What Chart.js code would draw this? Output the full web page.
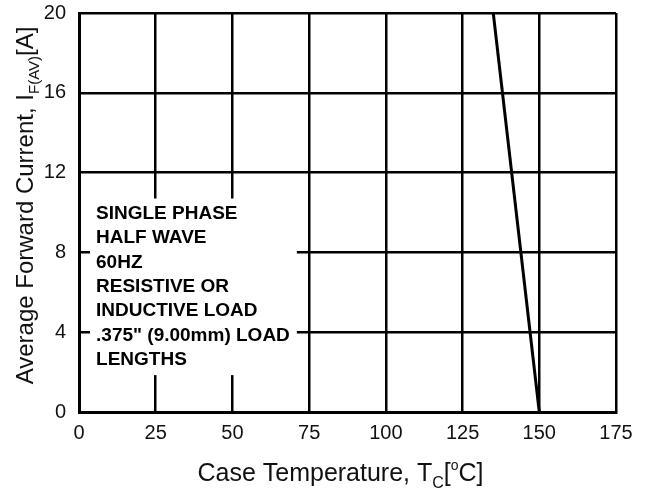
<!DOCTYPE html>
<html>
<head>
<meta charset="utf-8">
<script src="https://cdn.jsdelivr.net/npm/chart.js@4.4.0/dist/chart.umd.min.js"></script>
<style>
    body { margin: 0; background: #fff; }
    #wrap { width: 647px; height: 491px; }
</style>
</head>
<body>
<div id="wrap"><canvas id="derating" width="647" height="491"></canvas></div>
<script>
// derating curve: case temperature vs average forward current
const caseTemp = [135, 150];
const forwardCurrent = [20, 0];

const xTicks = [0, 25, 50, 75, 100, 125, 150, 175];
const yTicks = [0, 4, 8, 12, 16, 20];

const noteLines = [
    "SINGLE PHASE",
    "HALF WAVE",
    "60HZ",
    "RESISTIVE OR",
    "INDUCTIVE LOAD",
    ".375\" (9.00mm) LOAD",
    "LENGTHS"
];

const fontFamily = '"Liberation Sans", Arial, sans-serif';

const points = caseTemp.map((t, i) => ({ x: t, y: forwardCurrent[i] }));

// white note box over the grid, with the test conditions
const notePlugin = {
    id: 'note',
    beforeDatasetsDraw(chart) {
        const ctx = chart.ctx;
        const xs = chart.scales.x, ys = chart.scales.y;
        const left = xs.getPixelForValue(3.6), right = xs.getPixelForValue(71);
        const top = ys.getPixelForValue(10.7), bottom = ys.getPixelForValue(1.85);
        ctx.save();
        ctx.fillStyle = '#fff';
        ctx.fillRect(left, top, right - left, bottom - top);
        ctx.fillStyle = '#000';
        ctx.font = 'bold 19px ' + fontFamily;
        ctx.textBaseline = 'middle';
        noteLines.forEach((line, i) => {
            ctx.fillText(line, left + 6, top + 15 + i * 24.4);
        });
        ctx.restore();
    }
};

// draws a run of text parts; each part: [text, size, baseline shift]
function drawParts(ctx, parts, startX, y) {
    let x = startX;
    parts.forEach(p => {
        ctx.font = p[1] + 'px ' + fontFamily;
        ctx.fillText(p[0], x, y + p[2]);
        x += ctx.measureText(p[0]).width;
    });
}

function partsWidth(ctx, parts) {
    let w = 0;
    parts.forEach(p => {
        ctx.font = p[1] + 'px ' + fontFamily;
        w += ctx.measureText(p[0]).width;
    });
    return w;
}

const titlePlugin = {
    id: 'axisTitles',
    afterDraw(chart) {
        const ctx = chart.ctx;
        const area = chart.chartArea;
        ctx.save();
        ctx.fillStyle = '#111';
        ctx.textBaseline = 'alphabetic';

        const xParts = [
            ['Case Temperature, T', 25, 0],
            ['C', 16, 7],
            ['[', 25, 0],
            ['o', 14, -11],
            ['C]', 25, 0]
        ];
        const xw = partsWidth(ctx, xParts);
        drawParts(ctx, xParts, (area.left + area.right) / 2 - 7 - xw / 2, 481);

        const yParts = [
            ['Average Forward Current, I', 24, 0],
            ['F(AV)', 15, 6],
            ['[A]', 24, 0]
        ];
        const yw = partsWidth(ctx, yParts);
        ctx.translate(33, (area.top + area.bottom) / 2 - 7);
        ctx.rotate(-Math.PI / 2);
        drawParts(ctx, yParts, -yw / 2, 0);
        ctx.restore();
    }
};

new Chart(document.getElementById('derating'), {
    type: 'line',
    data: {
        datasets: [{
            data: points,
            borderColor: '#000',
            borderWidth: 3,
            pointRadius: 0,
            fill: false,
            tension: 0
        }]
    },
    options: {
        responsive: false,
        animation: false,
        events: [],
        layout: { padding: { left: 0, top: 13, right: 31, bottom: 0 } },
        plugins: {
            legend: { display: false },
            tooltip: { enabled: false },
            title: { display: false }
        },
        scales: {
            x: {
                type: 'linear',
                min: 0,
                max: 175,
                afterFit(scale) {
                    scale.height = 79;
                    scale.paddingLeft = 0;
                    scale.paddingRight = 0;
                },
                afterBuildTicks(scale) { scale.ticks = xTicks.map(v => ({ value: v })); },
                grid: { color: '#000', lineWidth: 2.5, drawTicks: false },
                border: { color: '#000', width: 3 },
                ticks: {
                    color: '#111',
                    padding: 9,
                    maxRotation: 0,
                    font: { family: fontFamily, size: 20 }
                }
            },
            y: {
                type: 'linear',
                min: 0,
                max: 20,
                afterFit(scale) {
                    scale.width = 79;
                    scale.paddingTop = 0;
                    scale.paddingBottom = 0;
                },
                afterBuildTicks(scale) { scale.ticks = yTicks.map(v => ({ value: v })); },
                grid: { color: '#000', lineWidth: 2.5, drawTicks: false },
                border: { color: '#000', width: 3 },
                ticks: {
                    color: '#111',
                    padding: 13,
                    font: { family: fontFamily, size: 20 }
                }
            }
        }
    },
    plugins: [notePlugin, titlePlugin]
});
</script>
</body>
</html>
